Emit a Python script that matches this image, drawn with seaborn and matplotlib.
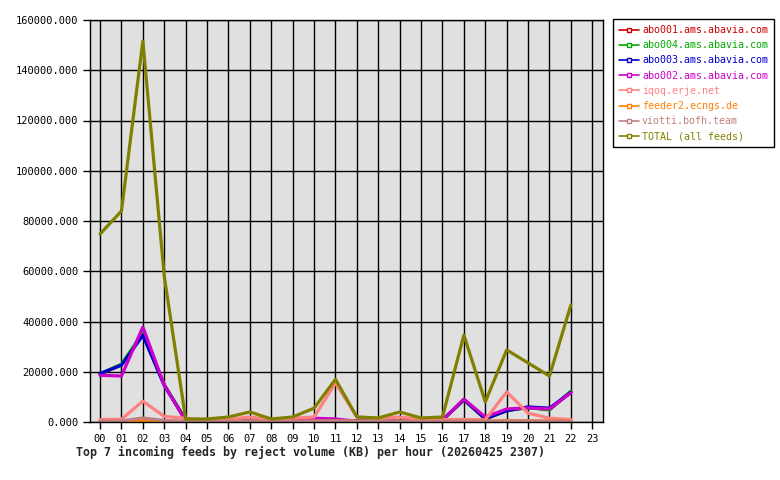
import numpy as np
import pandas as pd
import matplotlib
matplotlib.use('Agg')
import matplotlib.pyplot as plt
from matplotlib.lines import Line2D
import seaborn as sns

hours = list(range(23))
hour_labels = [f'{h:02d}' for h in range(24)]

feeds = [
    'abo001.ams.abavia.com',
    'abo004.ams.abavia.com',
    'abo003.ams.abavia.com',
    'abo002.ams.abavia.com',
    'iqoq.erje.net',
    'feeder2.ecngs.de',
    'viotti.bofh.team',
    'TOTAL (all feeds)',
]
colors = ['#cc0000', '#00aa00', '#0000cc', '#cc00cc',
          '#ff8080', '#ff8000', '#c08080', '#808000']

abo001 = [19000, 22800, 35000, 14700, 700, 300, 300, 300, 200, 300, 800, 500,
          300, 200, 300, 300, 800, 8800, 1200, 4500, 5800, 5000, 12000]
abo004 = [19200, 23000, 35500, 14800, 800, 300, 300, 300, 200, 300, 800, 500,
          300, 200, 300, 300, 800, 8800, 1200, 4600, 5700, 4800, 12300]
abo003 = [19300, 22600, 34500, 14600, 700, 300, 300, 300, 200, 300, 800, 500,
          300, 200, 300, 300, 800, 8900, 1300, 4500, 6000, 5500, 11800]
abo002 = [18600, 18300, 37800, 14700, 500, 300, 300, 300, 200, 300, 1500, 1200,
          300, 200, 300, 300, 800, 9100, 2000, 5200, 5600, 5200, 11600]
iqoq = [1000, 1100, 8300, 2200, 1500, 700, 1000, 2000, 800, 1500, 2000, 15500,
        2000, 1500, 2000, 1000, 1000, 1000, 900, 12000, 3500, 1500, 1000]
feeder2 = [200, 200, 600, 300, 200, 200, 200, 300, 200, 200, 300, 400,
           300, 200, 300, 200, 200, 300, 300, 600, 500, 400, 300]
viotti = [300, 400, 1600, 600, 300, 200, 300, 400, 200, 300, 400, 500,
          300, 200, 300, 200, 300, 400, 300, 400, 400, 300, 300]
total = [74800, 84000, 151600, 58000, 1200, 1200, 2000, 4000, 1200, 2000, 5500, 17000,
         2000, 1600, 4000, 1600, 2000, 34600, 8000, 28700, 23500, 18300, 46600]

series = [abo001, abo004, abo003, abo002, iqoq, feeder2, viotti, total]

df = pd.concat(
    [pd.DataFrame({'hour': hours, 'kb': vals, 'feed': name})
     for name, vals in zip(feeds, series)],
    ignore_index=True,
)
palette = dict(zip(feeds, colors))

sns.set_style('white')
plt.rcParams['font.family'] = ['DejaVu Sans Mono', 'DejaVu Sans']

fig = plt.figure(figsize=(7.8, 4.8), dpi=100)
ax = fig.add_axes([90 / 780, 58 / 480, 513 / 780, 402 / 480])
ax.set_facecolor('#e0e0e0')

sns.lineplot(data=df, x='hour', y='kb', hue='feed', hue_order=feeds,
             palette=palette, linewidth=2.3, sort=False, legend=False, ax=ax)

ax.set_xlim(-0.47, 23.5)
ax.set_ylim(0, 160000)
ax.set_xticks(range(24))
ax.set_xticklabels(hour_labels)
ax.set_yticks(np.arange(0, 160001, 20000))
ax.set_yticklabels([f'{v:.3f}' for v in np.arange(0, 160001, 20000)])
ax.grid(True, color='black', linewidth=1.0, linestyle='-')
ax.set_axisbelow(True)
ax.tick_params(axis='both', direction='out', length=5, width=1, color='black',
               labelsize=7.5, labelcolor='black', left=True, bottom=True)
for sp in ax.spines.values():
    sp.set_color('black')
    sp.set_linewidth(1.0)
ax.set_xlabel('')
ax.set_ylabel('')

handles = [Line2D([0], [0], color=c, linewidth=1.2, marker='s', markersize=3,
                  markerfacecolor='white', markeredgecolor=c) for c in colors]
leg = fig.legend(handles, feeds, loc='upper left',
                 bbox_to_anchor=(613 / 780, 1 - 19 / 480),
                 fontsize=7.2, frameon=True, fancybox=False, framealpha=1,
                 edgecolor='black', handlelength=2.0, handletextpad=0.3,
                 labelspacing=0.52, borderpad=0.6, borderaxespad=0)
leg.get_frame().set_linewidth(1.0)
for txt, c in zip(leg.get_texts(), colors):
    txt.set_color(c)

fig.text(76 / 780, 1 - 452 / 480,
         'Top 7 incoming feeds by reject volume (KB) per hour (20260425 2307)',
         fontsize=8.35, fontweight='bold', ha='left', va='center')

fig.savefig('out.png', dpi=100, facecolor='white')
